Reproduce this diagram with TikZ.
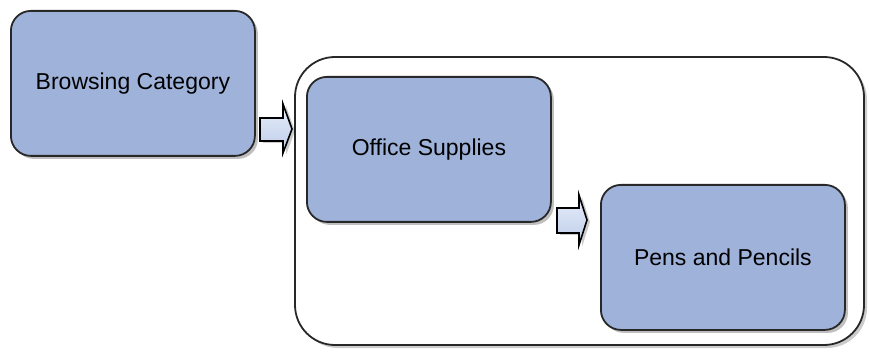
\documentclass[tikz,border=0pt]{standalone}
\usepackage{fontspec}
\setmainfont{Liberation Sans}
\usetikzlibrary{shadows}
\definecolor{boxfill}{RGB}{158,178,218}
\definecolor{arrowtop}{RGB}{232,238,250}
\definecolor{arrowbot}{RGB}{188,204,232}
\definecolor{edge}{RGB}{40,40,40}
\tikzset{
  box/.style={draw=edge, line width=1.8pt, fill=boxfill, rounded corners=20pt,
    minimum width=244pt, minimum height=145pt, font=\fontsize{23}{27}\selectfont,
    inner sep=0pt, anchor=north west,
    drop shadow={shadow xshift=3pt, shadow yshift=-3pt, opacity=0.25, fill=black}},
  container/.style={draw=edge, line width=1.8pt, fill=white, rounded corners=40pt,
    drop shadow={shadow xshift=3pt, shadow yshift=-3pt, opacity=0.2, fill=black}},
  flowarrow/.style={draw=black, line width=1.6pt, top color=arrowtop, bottom color=arrowbot,
    drop shadow={shadow xshift=3pt, shadow yshift=-2pt, opacity=0.2, fill=black}}
}
\begin{document}
\begin{tikzpicture}[x=1pt,y=-1pt]
\useasboundingbox (0,0) rectangle (869,352);
\draw[container] (295,57) rectangle (864,345);
\node[box] (browse) at (10,10) {Browsing Category};
\node[box] (office) at (306,76) {Office Supplies};
\node[box] (pens) at (600,184) {Pens and Pencils};
% arrow 1
\coordinate (a1) at (browse.east |- 0,129);
\filldraw[flowarrow] (260,118) -- (283,118) -- (283,104) -- (292,129) -- (283,153) -- (283,141) -- (260,141) -- cycle;
% arrow 2
\filldraw[flowarrow] (557,208) -- (579,208) -- (579,195) -- (587,220) -- (579,245) -- (579,233) -- (557,233) -- cycle;
\end{tikzpicture}
\end{document}
